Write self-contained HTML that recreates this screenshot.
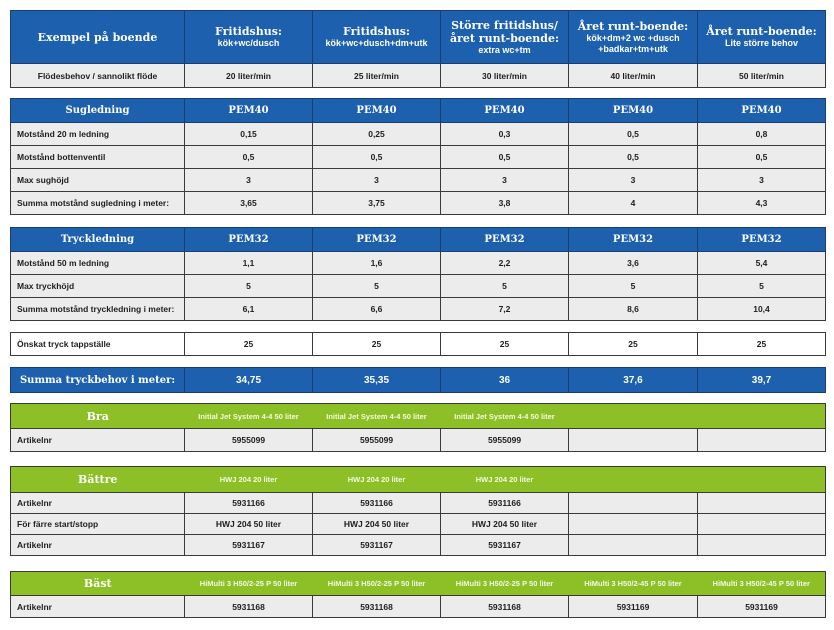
<!DOCTYPE html>
<html><head><meta charset="utf-8">
<style>
body{margin:0;width:834px;height:630px;background:#fff;overflow:hidden;position:relative;font-family:"Liberation Sans",Arial,sans-serif;}
table{position:absolute;left:10px;width:815px;border-collapse:collapse;table-layout:fixed;}
td{border:1px solid #3a3a3a;padding:0;text-align:center;font-size:8.5px;font-weight:bold;color:#1e1e1e;background:#ececec;overflow:hidden;white-space:nowrap;}
td.l{text-align:left;padding-left:6px;}
td.w{background:#fff;}
tr.b td{background:#1d60ad;color:#fff;border-color:#1a3f6e;}
tr.g td{background:#8dc026;color:#f4f9e4;border:none;font-size:7.5px;}
tr.g td:first-child{border-left:1px solid #3a3a3a;}
tr.g td:last-child{border-right:1px solid #3a3a3a;}
tr.g{border-top:1px solid #3a3a3a;}
.s{font-family:"DejaVu Serif","Liberation Serif",serif;font-weight:bold;font-size:10px;}
.t{font-family:"DejaVu Serif","Liberation Serif",serif;font-weight:bold;font-size:11px;line-height:13px;}
.sub{font-size:9px;font-weight:bold;line-height:11px;}
tr.g td.s{font-size:11px;color:#fff;}
</style></head><body>

<table style="top:10px">
<colgroup><col style="width:174px"><col style="width:128px"><col style="width:128px"><col style="width:128px"><col style="width:129px"><col style="width:128px"></colgroup>
<tr class="b" style="height:53px"><td class="t">Exempel på boende</td>
<td><div class="t">Fritidshus:</div><div class="sub">kök+wc/dusch</div></td>
<td><div class="t">Fritidshus:</div><div class="sub">kök+wc+dusch+dm+utk</div></td>
<td><div class="t">Större fritidshus/<br>året runt-boende:</div><div class="sub">extra wc+tm</div></td>
<td><div class="t">Året runt-boende:</div><div class="sub">kök+dm+2 wc +dusch<br>+badkar+tm+utk</div></td>
<td><div class="t">Året runt-boende:</div><div class="sub">Lite större behov</div></td></tr>
<tr style="height:24px"><td>Flödesbehov / sannolikt flöde</td><td>20 liter/min</td><td>25 liter/min</td><td>30 liter/min</td><td>40 liter/min</td><td>50 liter/min</td></tr>
</table>

<table style="top:98px">
<colgroup><col style="width:174px"><col style="width:128px"><col style="width:128px"><col style="width:128px"><col style="width:129px"><col style="width:128px"></colgroup>
<tr class="b" style="height:24px"><td class="s">Sugledning</td><td class="s">PEM40</td><td class="s">PEM40</td><td class="s">PEM40</td><td class="s">PEM40</td><td class="s">PEM40</td></tr>
<tr style="height:23px"><td class="l">Motstånd 20 m ledning</td><td>0,15</td><td>0,25</td><td>0,3</td><td>0,5</td><td>0,8</td></tr>
<tr style="height:23px"><td class="l">Motstånd bottenventil</td><td>0,5</td><td>0,5</td><td>0,5</td><td>0,5</td><td>0,5</td></tr>
<tr style="height:23px"><td class="l">Max sughöjd</td><td>3</td><td>3</td><td>3</td><td>3</td><td>3</td></tr>
<tr style="height:23px"><td class="l">Summa motstånd sugledning i meter:</td><td>3,65</td><td>3,75</td><td>3,8</td><td>4</td><td>4,3</td></tr>
</table>

<table style="top:227px">
<colgroup><col style="width:174px"><col style="width:128px"><col style="width:128px"><col style="width:128px"><col style="width:129px"><col style="width:128px"></colgroup>
<tr class="b" style="height:24px"><td class="s">Tryckledning</td><td class="s">PEM32</td><td class="s">PEM32</td><td class="s">PEM32</td><td class="s">PEM32</td><td class="s">PEM32</td></tr>
<tr style="height:23px"><td class="l">Motstånd 50 m ledning</td><td>1,1</td><td>1,6</td><td>2,2</td><td>3,6</td><td>5,4</td></tr>
<tr style="height:23px"><td class="l">Max tryckhöjd</td><td>5</td><td>5</td><td>5</td><td>5</td><td>5</td></tr>
<tr style="height:23px"><td class="l">Summa motstånd tryckledning i meter:</td><td>6,1</td><td>6,6</td><td>7,2</td><td>8,6</td><td>10,4</td></tr>
</table>

<table style="top:332px">
<colgroup><col style="width:174px"><col style="width:128px"><col style="width:128px"><col style="width:128px"><col style="width:129px"><col style="width:128px"></colgroup>
<tr style="height:23px"><td class="l w">Önskat tryck tappställe</td><td class="w">25</td><td class="w">25</td><td class="w">25</td><td class="w">25</td><td class="w">25</td></tr>
</table>

<table style="top:367px">
<colgroup><col style="width:174px"><col style="width:128px"><col style="width:128px"><col style="width:128px"><col style="width:129px"><col style="width:128px"></colgroup>
<tr class="b" style="height:25px"><td class="s">Summa tryckbehov i meter:</td><td style="font-size:10px">34,75</td><td style="font-size:10px">35,35</td><td style="font-size:10px">36</td><td style="font-size:10px">37,6</td><td style="font-size:10px">39,7</td></tr>
</table>

<table style="top:403px">
<colgroup><col style="width:174px"><col style="width:128px"><col style="width:128px"><col style="width:128px"><col style="width:129px"><col style="width:128px"></colgroup>
<tr class="g" style="height:25px"><td class="s">Bra</td><td>Initial Jet System 4-4 50 liter</td><td>Initial Jet System 4-4 50 liter</td><td>Initial Jet System 4-4 50 liter</td><td></td><td></td></tr>
<tr style="height:23px"><td class="l">Artikelnr</td><td>5955099</td><td>5955099</td><td>5955099</td><td></td><td></td></tr>
</table>

<table style="top:466px">
<colgroup><col style="width:174px"><col style="width:128px"><col style="width:128px"><col style="width:128px"><col style="width:129px"><col style="width:128px"></colgroup>
<tr class="g" style="height:26px"><td class="s">Bättre</td><td>HWJ 204 20 liter</td><td>HWJ 204 20 liter</td><td>HWJ 204 20 liter</td><td></td><td></td></tr>
<tr style="height:21px"><td class="l">Artikelnr</td><td>5931166</td><td>5931166</td><td>5931166</td><td></td><td></td></tr>
<tr style="height:21px"><td class="l">För färre start/stopp</td><td>HWJ 204 50 liter</td><td>HWJ 204 50 liter</td><td>HWJ 204 50 liter</td><td></td><td></td></tr>
<tr style="height:21px"><td class="l">Artikelnr</td><td>5931167</td><td>5931167</td><td>5931167</td><td></td><td></td></tr>
</table>

<table style="top:571px">
<colgroup><col style="width:174px"><col style="width:128px"><col style="width:128px"><col style="width:128px"><col style="width:129px"><col style="width:128px"></colgroup>
<tr class="g" style="height:24px"><td class="s">Bäst</td><td>HiMulti 3 H50/2-25 P 50 liter</td><td>HiMulti 3 H50/2-25 P 50 liter</td><td>HiMulti 3 H50/2-25 P 50 liter</td><td>HiMulti 3 H50/2-45 P 50 liter</td><td>HiMulti 3 H50/2-45 P 50 liter</td></tr>
<tr style="height:22px"><td class="l">Artikelnr</td><td>5931168</td><td>5931168</td><td>5931168</td><td>5931169</td><td>5931169</td></tr>
</table>
</body></html>
